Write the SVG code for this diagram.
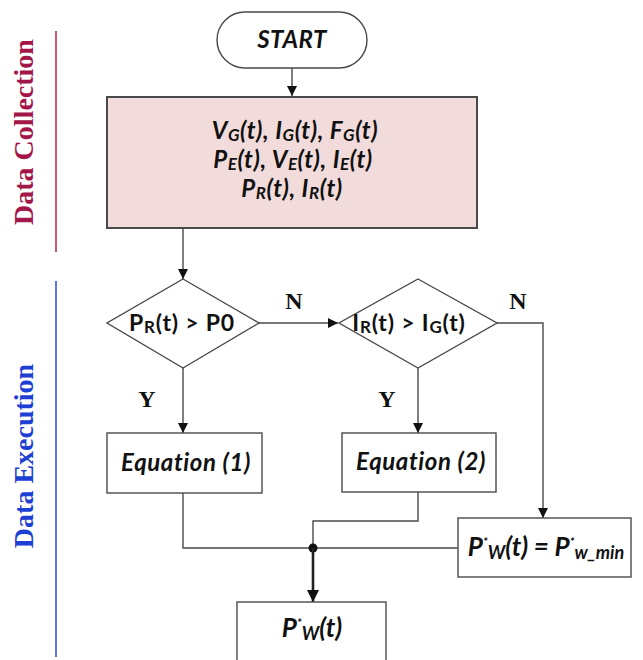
<svg xmlns="http://www.w3.org/2000/svg" width="643" height="660" viewBox="0 0 643 660">
<style>
.nd{fill:#fff;stroke:#4a4a4a;stroke-width:1.4}
.pink{fill:#f2dcdb;stroke:#4a4a4a;stroke-width:2}
.t{font-family:Lato,"Liberation Sans",sans-serif;font-weight:bold;font-style:italic;fill:#111;text-anchor:middle}
.d{font-family:Lato,"Liberation Sans",sans-serif;font-weight:bold;fill:#111;text-anchor:middle;font-size:23px;letter-spacing:0.8px}
.yn{font-family:"Liberation Serif","Times New Roman",serif;font-weight:bold;fill:#111;text-anchor:middle;font-size:24px}
.c{fill:none;stroke:#4a4a4a;stroke-width:1.4}
.side{font-family:"Liberation Serif","Times New Roman",serif;font-weight:bold;font-size:28px;text-anchor:middle}
.ln{font-size:24px;letter-spacing:0.6px}
.sb{font-size:17px}
</style>
<defs>
<marker id="ah" viewBox="0 0 10 10" refX="10" refY="5" markerWidth="10" markerHeight="10" markerUnits="userSpaceOnUse" orient="auto">
<path d="M0,0 L10,5 L0,10 z" fill="#111"/>
</marker>
<marker id="ahb" viewBox="0 0 10 10" refX="10" refY="5" markerWidth="12" markerHeight="12" markerUnits="userSpaceOnUse" orient="auto">
<path d="M0,0 L10,5 L0,10 z" fill="#111"/>
</marker>
</defs>

<g id="phases">
<line x1="56" y1="31" x2="56" y2="252" stroke="#c4587a" stroke-width="2"/>
<text class="side" fill="#a3164a" transform="translate(33,132) rotate(-90)">Data Collection</text>
<line x1="56" y1="281" x2="56" y2="657" stroke="#5a78e6" stroke-width="2"/>
<text class="side" fill="#1d3fd4" transform="translate(33,456) rotate(-90)">Data Execution</text>
</g>

<g id="connectors">
<line class="c" x1="292" y1="68" x2="292" y2="96" marker-end="url(#ah)"/>
<line class="c" x1="183" y1="228" x2="183" y2="279" marker-end="url(#ah)"/>
<line class="c" x1="259" y1="323" x2="338" y2="323" marker-end="url(#ah)"/>
<polyline class="c" points="497,323 543,323 543,518" marker-end="url(#ah)"/>
<line class="c" x1="183" y1="368" x2="183" y2="433" marker-end="url(#ah)"/>
<line class="c" x1="418" y1="368" x2="418" y2="433" marker-end="url(#ah)"/>
<polyline class="c" points="183,493 183,548 458,548"/>
<polyline class="c" points="418,492 418,521 313,521 313,548"/>
<circle cx="313" cy="548" r="4.5" fill="#111"/>
<line x1="313" y1="548" x2="313" y2="602" stroke="#222" stroke-width="2.6" marker-end="url(#ahb)"/>
<text class="yn" x="294" y="309">N</text>
<text class="yn" x="518" y="309">N</text>
<text class="yn" x="147" y="407">Y</text>
<text class="yn" x="387" y="407">Y</text>
</g>

<g id="start">
<rect class="nd" x="217" y="12" width="150" height="56" rx="28"/>
<text class="t" x="292" y="48" font-size="24" letter-spacing="0.5">START</text>
</g>

<g id="collect">
<rect class="pink" x="107" y="97" width="370" height="131"/>
<text class="t ln" x="295" y="139">V<tspan class="sb" dy="2">G</tspan><tspan dy="-2">(t), I</tspan><tspan class="sb" dy="2">G</tspan><tspan dy="-2">(t), F</tspan><tspan class="sb" dy="2">G</tspan><tspan dy="-2">(t)</tspan></text>
<text class="t ln" x="293" y="168">P<tspan class="sb" dy="2">E</tspan><tspan dy="-2">(t), V</tspan><tspan class="sb" dy="2">E</tspan><tspan dy="-2">(t), I</tspan><tspan class="sb" dy="2">E</tspan><tspan dy="-2">(t)</tspan></text>
<text class="t ln" x="292" y="197">P<tspan class="sb" dy="2">R</tspan><tspan dy="-2">(t), I</tspan><tspan class="sb" dy="2">R</tspan><tspan dy="-2">(t)</tspan></text>
</g>

<g id="dec1">
<polygon class="nd" points="183,279 259,323 183,368 107,323"/>
<text class="d" x="182" y="331">P<tspan font-size="17" dy="2">R</tspan><tspan dy="-2">(t)  &gt;  P0</tspan></text>
</g>

<g id="dec2">
<polygon class="nd" points="418,279 497,323 418,368 339,323"/>
<text class="d" x="409" y="331">I<tspan font-size="17" dy="2">R</tspan><tspan dy="-2">(t)  &gt;  I</tspan><tspan font-size="17" dy="2">G</tspan><tspan dy="-2">(t)</tspan></text>
</g>

<g id="eq1">
<rect class="nd" x="107" y="433" width="155" height="60"/>
<text class="t" x="186" y="471" font-size="24" letter-spacing="0.6">Equation (1)</text>
</g>

<g id="eq2">
<rect class="nd" x="342" y="433" width="154" height="59"/>
<text class="t" x="421" y="470" font-size="24" letter-spacing="0.6">Equation (2)</text>
</g>

<g id="pmin">
<rect class="nd" x="458" y="518" width="173" height="59"/>
<text class="t" x="546" y="556" font-size="26">P<tspan font-size="12" dy="-10">*</tspan><tspan font-size="18" dy="13">W</tspan><tspan dy="-3">(t) = P</tspan><tspan font-size="12" dy="-10">*</tspan><tspan font-size="18" dy="13">w_min</tspan></text>
</g>

<g id="pw">
<rect class="nd" x="237" y="602" width="149" height="70"/>
<text class="t" x="312" y="637" font-size="26">P<tspan font-size="12" dy="-10">*</tspan><tspan font-size="18" dy="13">W</tspan><tspan dy="-3">(t)</tspan></text>
</g>
</svg>
